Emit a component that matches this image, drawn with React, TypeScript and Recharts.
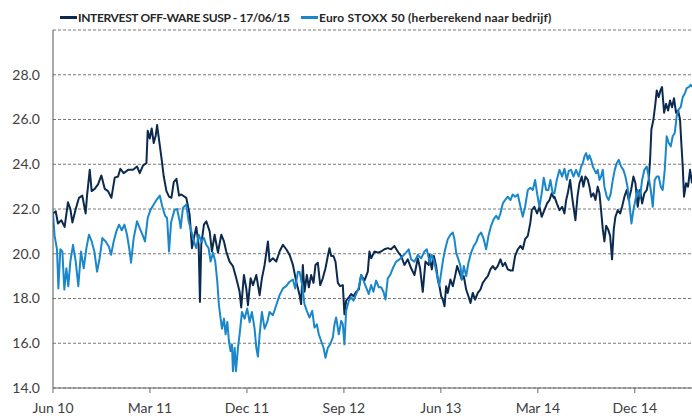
import React from 'react';
import { LineChart, Line, XAxis, YAxis, CartesianGrid } from 'recharts';

// x = months since June 2010
const xTickMonths = [0, 9, 18, 27, 36, 45, 54];
const xTickLabels = ['Jun 10', 'Mar 11', 'Dec 11', 'Sep 12', 'Jun 13', 'Mar 14', 'Dec 14'];
const yTicks = [14, 16, 18, 20, 22, 24, 26, 28];

const seriesNames = ['INTERVEST OFF-WARE SUSP - 17/06/15', 'Euro STOXX 50 (herberekend naar bedrijf)'];

const intervest: [number, number][] = [
  [0,21.8],[0.25,21.9],[0.46,21.35],[0.77,21.5],[1.08,21.2],[1.39,22.3],[1.61,22.0],[1.8,21.4],[2.11,22.0],[2.41,22.5],[2.72,22.6],[3.03,21.8],[3.16,22.6],[3.41,23.75],[3.59,22.8],[3.87,22.9],[4.18,23.1],[4.49,23.5],[4.8,22.9],[5.11,22.8],[5.42,22.5],[5.73,23.4],[6.04,23.45],[6.25,23.8],[6.56,23.6],[6.97,23.75],[7.43,23.75],[7.8,23.9],[8.05,23.6],[8.36,23.95],[8.67,24.05],[8.79,25.5],[8.98,25.15],[9.16,25.6],[9.35,24.95],[9.54,25.3],[9.66,25.75],[9.91,24.85],[10.09,24.2],[10.28,23.45],[10.53,22.8],[10.77,22.55],[10.99,22.5],[11.21,23.2],[11.46,23.35],[11.7,22.6],
  [11.91,22.65],[12.37,22.5],[12.68,21.75],[12.9,20.25],[13.08,20.7],[13.3,21.2],[13.52,20.4],[13.64,17.85],[13.76,20.4],[14.01,21.3],[14.23,21.45],[14.54,21.0],[14.75,20.1],[15.0,20.85],[15.31,20.05],[15.62,20.85],[15.87,20.55],[16.08,20.1],[16.39,19.65],[16.7,19.45],[17.01,18.9],[17.32,18.3],[17.47,17.6],[17.72,19.05],[17.94,18.45],[18.09,17.7],[18.34,18.9],[18.56,18.6],[18.87,19.05],[19.18,18.15],[19.39,18.9],[19.64,19.5],[19.95,20.55],[20.1,19.65],[20.41,19.8],[20.72,19.65],[21.03,20.1],[21.34,20.4],[21.65,20.2],[21.96,19.95],[22.27,19.5],[22.58,18.75],[22.89,18.15],
  [23.03,17.75],[23.19,19.5],[23.34,18.3],[23.56,19.05],[23.75,18.5],[23.96,19.05],[24.18,18.7],[24.36,19.5],[24.58,19.6],[24.8,18.6],[25.04,18.9],[25.29,19.35],[25.51,19.9],[25.66,20.25],[25.82,19.9],[26.03,19.9],[26.22,19.65],[26.44,18.7],[26.65,18.55],[26.9,18.6],[27.05,17.3],[27.21,17.9],[27.46,18.05],[27.67,18.2],[27.89,18.1],[28.14,18.3],[28.38,18.4],[28.6,19.05],[28.91,18.8],[29.22,19.2],[29.37,20.1],[29.53,19.8],[29.84,20.1],[30.15,20.05],[30.46,20.1],[30.76,20.2],[31.07,20.25],[31.38,20.2],[31.69,20.35],[32.0,20.1],[32.31,19.9],[32.62,19.5],[32.93,19.75],[33.24,19.35],[33.55,19.05],[33.86,19.8],[34.07,19.35],[34.32,18.3],[34.57,19.65],[34.88,19.5],
  [34.94,19.95],[35.16,19.3],[35.35,19.9],[35.56,19.45],[35.72,18.85],[35.87,18.55],[36.03,18.1],[36.18,17.95],[36.34,17.65],[36.49,18.55],[36.64,18.25],[36.89,18.85],[37.11,18.55],[37.32,19.0],[37.51,19.45],[37.73,19.15],[37.94,18.85],[38.13,19.0],[38.35,18.4],[38.56,18.1],[38.75,17.8],[38.96,18.25],[39.18,17.95],[39.43,18.25],[39.67,18.4],[39.89,18.7],[40.11,18.85],[40.36,19.0],[40.6,19.3],[40.82,19.45],[41.04,19.3],[41.28,19.45],[41.53,19.75],[41.75,19.45],[41.96,19.6],[42.21,19.3],[42.46,19.25],[42.67,19.25],[42.89,19.9],[43.14,20.2],[43.39,20.35],[43.6,20.2],[43.82,20.65],[44.07,20.8],[44.31,21.4],[44.44,21.95],[44.68,22.1],[44.93,21.8],[45.15,22.1],[45.36,21.65],[45.61,21.95],[45.86,22.25],[46.08,22.4],[46.29,22.7],[46.48,22.5],
  [46.54,22.55],[46.76,22.25],[47.01,21.95],[47.26,22.1],[47.47,21.8],[47.63,22.4],[47.78,22.7],[48.0,23.3],[48.18,22.55],[48.31,22.1],[48.49,21.5],[48.68,22.55],[48.86,23.15],[49.08,23.45],[49.23,23.0],[49.42,23.45],[49.64,23.3],[49.79,23.0],[49.95,22.55],[50.16,22.7],[50.35,22.4],[50.56,23.0],[50.72,22.7],[50.87,21.95],[51.03,21.1],[51.18,20.55],[51.34,21.25],[51.52,21.1],[51.71,20.8],[51.89,19.75],[52.05,21.1],[52.2,21.65],[52.42,21.95],[52.64,21.8],[52.82,22.1],[53.04,22.55],[53.25,22.85],[53.44,22.4],[53.66,22.85],[53.87,23.45],[54.06,23.15],[54.27,22.1],[54.49,22.85],[54.68,22.25],[54.89,22.7],[55.11,22.85],[55.29,23.3],[55.42,24.2],[55.54,25.55],[55.73,26.0],[55.91,26.7],[56.04,27.3],[56.22,27.0],[56.38,27.3],[56.53,27.45],[56.72,26.3],[56.9,26.7],[57.09,26.4],[57.27,26.85],[57.46,26.55],[57.64,26.95],[57.83,26.3],[58.02,26.4],[58.2,26.0],[58.32,24.95],[58.45,23.9],[58.57,22.55],[58.76,23.15],[58.94,23.0],[59.13,23.75],[59.31,23.15],
];

const stoxx: [number, number][] = [
  [0,21.8],[0.15,20.8],[0.37,20.2],[0.5,18.45],[0.68,20.2],[0.87,20.1],[1.05,18.4],[1.24,19.35],[1.42,18.55],[1.61,19.65],[1.86,20.4],[2.11,19.65],[2.35,18.55],[2.6,20.1],[2.85,19.35],[3.1,20.25],[3.34,20.85],[3.59,20.55],[3.84,20.1],[4.09,19.2],[4.33,19.8],[4.58,20.7],[4.89,20.55],[5.2,20.3],[5.39,19.95],[5.63,20.55],[5.88,21.0],[6.13,21.3],[6.38,21.05],[6.63,21.3],[6.87,20.85],[7.12,20.1],[7.24,19.6],[7.49,20.7],[7.8,21.45],[8.05,21.15],[8.3,20.85],[8.54,20.55],[8.79,21.6],[9.04,21.95],[9.35,22.2],[9.6,22.4],[9.91,22.6],[10.15,22.1],[10.4,21.7],[10.59,21.6],[10.77,20.1],[10.96,21.4],[11.27,21.95],[11.52,22.0],[11.76,21.45],
  [11.85,21.15],[12.06,22.05],[12.37,22.2],[12.59,21.45],[12.84,21.0],[13.08,20.55],[13.3,20.25],[13.52,20.85],[13.76,20.55],[14.01,20.7],[14.23,20.4],[14.44,20.25],[14.63,19.65],[14.85,20.05],[15.06,19.65],[15.25,18.75],[15.4,17.7],[15.56,17.1],[15.68,16.65],[15.87,17.1],[16.02,16.4],[16.18,16.95],[16.33,16.1],[16.48,15.65],[16.61,15.95],[16.7,14.75],[16.86,15.8],[16.98,14.75],[17.17,15.8],[17.32,16.4],[17.54,17.4],[17.78,17.1],[18.03,17.55],[18.25,16.95],[18.46,17.4],[18.71,16.65],[18.87,15.8],[19.02,15.4],[19.18,16.4],[19.39,17.4],[19.64,16.65],[19.89,16.95],[20.1,17.4],[20.41,17.25],[20.72,17.7],[21.03,18.15],[21.34,18.45],[21.65,18.55],[21.96,18.75],[22.27,18.85],[22.48,18.45],[22.73,19.2],
  [22.88,19.2],[23.13,18.6],[23.34,17.75],[23.56,17.45],[23.81,17.15],[24.06,17.45],[24.27,16.7],[24.49,16.85],[24.67,16.4],[24.89,16.1],[25.11,15.8],[25.29,15.35],[25.51,15.8],[25.72,15.95],[25.97,16.25],[26.13,16.85],[26.28,17.15],[26.53,16.4],[26.75,17.0],[26.9,16.85],[27.05,15.95],[27.21,17.45],[27.46,17.9],[27.67,18.05],[27.89,17.9],[28.14,18.2],[28.38,18.5],[28.6,19.05],[28.82,18.8],[29.06,18.5],[29.31,18.2],[29.53,18.6],[29.74,18.3],[29.99,18.8],[30.24,18.5],[30.46,18.5],[30.67,18.3],[30.86,17.95],[31.07,18.9],[31.29,19.05],[31.54,19.35],[31.85,19.65],[32.16,19.75],[32.47,19.9],[32.77,20.05],[33.02,20.2],[33.24,19.75],[33.55,19.65],[33.86,19.95],[34.17,19.8],[34.48,20.1],[34.69,20.2],[34.88,19.8],
  [34.94,19.6],[35.16,19.95],[35.41,19.6],[35.66,19.0],[35.84,18.55],[36.03,19.15],[36.21,19.75],[36.4,20.2],[36.64,20.65],[36.89,20.85],[37.11,20.95],[37.26,20.65],[37.42,20.05],[37.63,19.75],[37.82,19.45],[37.94,18.85],[38.13,19.45],[38.35,19.0],[38.56,19.6],[38.81,20.05],[39.06,20.35],[39.27,20.5],[39.49,20.8],[39.74,20.95],[39.98,20.65],[40.2,20.2],[40.42,20.8],[40.66,21.25],[40.91,21.55],[41.13,21.7],[41.34,21.55],[41.53,21.8],[41.75,22.25],[41.96,22.4],[42.21,22.55],[42.46,22.4],[42.67,22.65],[42.89,22.55],[43.14,22.65],[43.39,22.1],[43.6,21.65],[43.82,22.1],[44.07,22.85],[44.31,22.95],[44.53,22.85],[44.75,23.3],[44.93,22.7],[45.15,22.1],[45.36,22.7],[45.55,23.4],[45.77,22.85],[45.98,22.85],[46.17,23.3],[46.38,22.7],
  [46.54,22.7],[46.76,23.3],[47.01,23.75],[47.26,23.45],[47.47,23.8],[47.69,23.3],[47.87,23.7],[48.09,23.75],[48.31,23.45],[48.55,23.75],[48.8,23.45],[49.02,23.9],[49.17,24.05],[49.33,24.35],[49.48,24.5],[49.64,24.2],[49.79,24.4],[49.95,24.2],[50.1,23.9],[50.25,23.75],[50.41,23.6],[50.56,23.75],[50.72,23.3],[50.87,23.45],[51.03,23.75],[51.18,23.0],[51.4,22.55],[51.58,22.4],[51.77,22.7],[51.96,23.3],[52.14,23.75],[52.33,24.05],[52.51,24.2],[52.73,23.9],[52.94,23.75],[53.13,23.45],[53.32,23.0],[53.5,22.25],[53.69,21.35],[53.87,21.95],[54.06,22.4],[54.27,22.85],[54.49,22.55],[54.68,23.3],[54.89,23.75],[55.11,23.9],[55.29,23.45],[55.48,22.85],[55.67,22.1],[55.85,23.3],[56.04,23.45],[56.22,23.45],[56.41,23.0],[56.59,22.85],[56.78,23.75],[56.96,25.25],[57.15,24.95],[57.34,24.8],[57.52,25.25],[57.71,25.4],[57.89,26.15],[58.08,26.45],[58.26,26.55],[58.45,27.0],[58.63,27.15],[58.82,27.4],[59.01,27.45],[59.19,27.55],[59.31,27.45],
];

const intervestData = intervest.map(([m, v]) => ({ m, v }));
const stoxxData = stoxx.map(([m, v]) => ({ m, v }));

const DARK = '#0b2a4d';
const LIGHT = '#1b87cb';
const FONT = 'Lato, "Open Sans", sans-serif';

const LegendItem = ({ color, label, left, spacing }: { color: string; label: string; left: number; spacing: number }) => (
  <div style={{ position: 'absolute', left, top: 9, height: 16, display: 'flex', alignItems: 'center', whiteSpace: 'nowrap' }}>
    <span style={{ display: 'inline-block', width: 17, height: 3, background: color }} />
    <span style={{ fontFamily: FONT, fontWeight: 700, fontSize: 12, letterSpacing: spacing, color: '#262626', marginLeft: 1 }}>{label}</span>
  </div>
);

export default function App() {
  return (
    <div style={{ position: 'absolute', left: 0, top: 0, width: 692, height: 416, overflow: 'hidden', background: '#fff' }}>
      <LineChart width={692} height={416} margin={{ top: 30, right: 0, bottom: 0, left: 0 }}>
        <CartesianGrid vertical={false} stroke="#7a7a7a" strokeDasharray="3 2" />
        <XAxis
          type="number"
          dataKey="m"
          domain={[0, 59.31]}
          allowDataOverflow
          ticks={xTickMonths}
          tickFormatter={(v: number) => xTickLabels[xTickMonths.indexOf(v)] ?? ''}
          height={28}
          tickSize={5}
          tickMargin={10}
          interval={0}
          stroke="#6a6a6a"
          tick={{ fill: '#404040', fontSize: 14, fontFamily: FONT }}
        />
        <YAxis
          type="number"
          domain={[14, 30]}
          ticks={yTicks}
          allowDataOverflow
          width={53}
          tickLine={false}
          tickSize={0}
          tickMargin={13}
          interval={0}
          stroke="#555555"
          tickFormatter={(v: number) => v.toFixed(1)}
          tick={{ fill: '#404040', fontSize: 14, fontFamily: FONT }}
        />
        <Line data={intervestData} dataKey="v" stroke={DARK} strokeWidth={2} dot={false} isAnimationActive={false} strokeLinejoin="round" />
        <Line data={stoxxData} dataKey="v" stroke={LIGHT} strokeWidth={2} dot={false} isAnimationActive={false} strokeLinejoin="round" />
      </LineChart>
      <LegendItem color={DARK} label={seriesNames[0]} left={60} spacing={-0.35} />
      <LegendItem color={LIGHT} label={seriesNames[1]} left={301} spacing={0.2} />
    </div>
  );
}
